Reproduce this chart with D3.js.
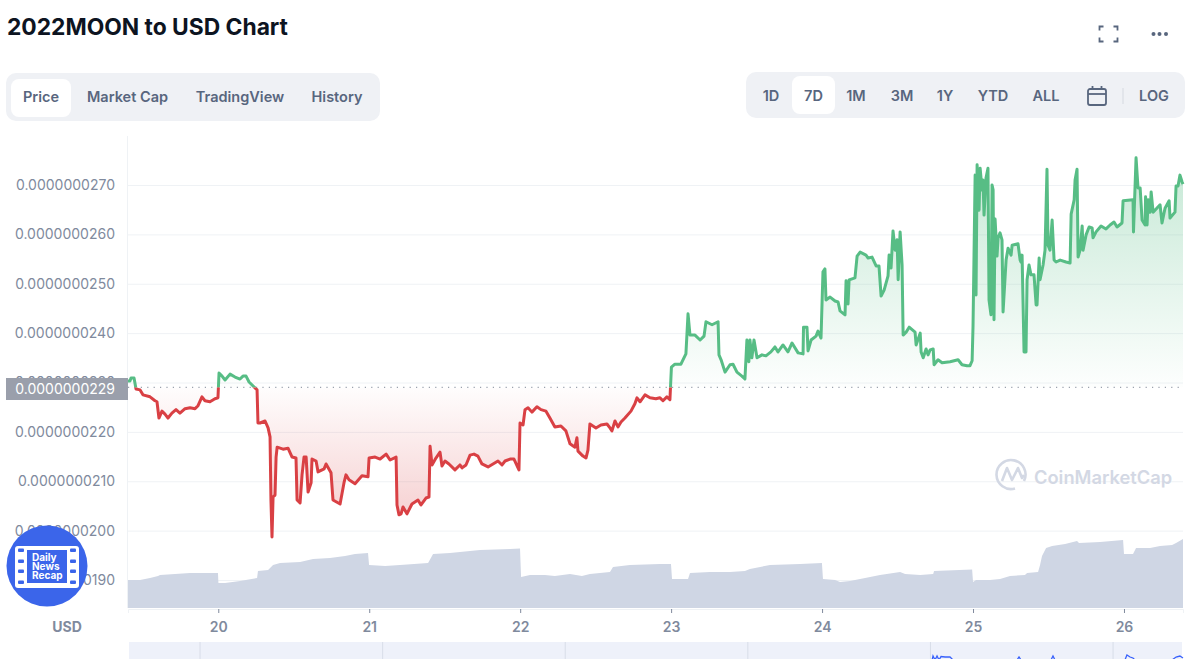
<!DOCTYPE html>
<html>
<head>
<meta charset="utf-8">
<title>2022MOON to USD Chart</title>
<script src="https://cdn.jsdelivr.net/npm/d3@7"></script>
<style>
	html, body { margin: 0; padding: 0; background: #fff; overflow: hidden; }
	svg { display: block; font-family: Inter, "Noto Sans", sans-serif; }
</style>
</head>
<body>
<div id="chart"></div>
<script>
var title = '2022MOON to USD Chart';
var leftTabs = ['Price', 'Market Cap', 'TradingView', 'History'];
var rangeTabs = ['1D', '7D', '1M', '3M', '1Y', 'YTD', 'ALL', 'LOG'];
var dayTicks = [20, 21, 22, 23, 24, 25, 26];
var priceTicks = [19, 20, 21, 22, 23, 24, 25, 26, 27];
var openPrice = 22.9; // price unit is 1e-9 usd

var days = [
	19.402, 19.415, 19.422, 19.442, 19.448, 19.455, 19.482, 19.501, 19.548, 19.581, 19.594, 19.607, 19.627, 19.647, 19.667, 19.693, 19.72, 19.746, 19.78, 19.813, 19.846, 19.866, 19.892, 19.912, 19.945, 19.978, 19.998,
	20.005, 20.025, 20.045, 20.078, 20.111, 20.144, 20.164, 20.184, 20.204, 20.224, 20.257, 20.263, 20.277, 20.31, 20.33, 20.343, 20.349, 20.356, 20.363, 20.376, 20.383, 20.39, 20.429, 20.462, 20.489, 20.515, 20.522, 20.542, 20.555, 20.568, 20.582, 20.595, 20.615, 20.621, 20.648, 20.661, 20.701, 20.714, 20.747, 20.76, 20.807, 20.833, 20.846, 20.866, 20.906, 20.952, 20.992, 20.999,
	21.039, 21.072, 21.112, 21.138, 21.178, 21.184, 21.197, 21.211, 21.224, 21.25, 21.283, 21.323, 21.343, 21.376, 21.396, 21.403, 21.416, 21.442, 21.469, 21.482, 21.502, 21.528, 21.568, 21.601, 21.615, 21.641, 21.668, 21.694, 21.72, 21.747, 21.787, 21.82, 21.853, 21.88, 21.9, 21.933, 21.959, 21.992, 21.999,
	22.019, 22.032, 22.052, 22.078, 22.111, 22.138, 22.171, 22.197, 22.23, 22.27, 22.303, 22.33, 22.363, 22.376, 22.383, 22.416, 22.436, 22.449, 22.462, 22.502, 22.535, 22.575, 22.595, 22.608, 22.628, 22.648, 22.668, 22.694, 22.734, 22.76, 22.774, 22.794, 22.827, 22.86, 22.899, 22.926, 22.946, 22.972, 22.992,
	23.002, 23.025, 23.065, 23.085, 23.098, 23.112, 23.125, 23.158, 23.192, 23.218, 23.231, 23.271, 23.311, 23.317, 23.331, 23.357, 23.39, 23.41, 23.436, 23.469, 23.489, 23.502, 23.515, 23.522, 23.535, 23.549, 23.569, 23.602, 23.628, 23.661, 23.688, 23.708, 23.741, 23.774, 23.801, 23.841, 23.874, 23.877, 23.9, 23.907, 23.927, 23.96, 23.973, 23.993,
	24.006, 24.019, 24.026, 24.053, 24.086, 24.106, 24.119, 24.152, 24.159, 24.172, 24.179, 24.218, 24.232, 24.252, 24.291, 24.305, 24.331, 24.358, 24.377, 24.391, 24.411, 24.437, 24.444, 24.457, 24.47, 24.484, 24.497, 24.504, 24.517, 24.53, 24.537, 24.557, 24.577, 24.616, 24.623, 24.65, 24.656, 24.67, 24.689, 24.702, 24.716, 24.736, 24.742, 24.768, 24.795, 24.848, 24.901, 24.927, 24.96, 24.98, 24.994,
	25.0, 25.014, 25.02, 25.027, 25.04, 25.047, 25.06, 25.066, 25.073, 25.086, 25.099, 25.106, 25.119, 25.126, 25.133, 25.139, 25.146, 25.159, 25.166, 25.179, 25.192, 25.199, 25.219, 25.232, 25.252, 25.259, 25.298, 25.312, 25.318, 25.325, 25.331, 25.338, 25.351, 25.358, 25.371, 25.384, 25.404, 25.418, 25.424, 25.438, 25.444, 25.464, 25.477, 25.49, 25.497, 25.51, 25.524, 25.537, 25.55, 25.577, 25.616, 25.643, 25.65, 25.67, 25.676, 25.689, 25.696, 25.709, 25.723, 25.729, 25.749, 25.769, 25.789, 25.795, 25.815, 25.848, 25.881, 25.908, 25.934, 25.954, 25.987, 25.994,
	26.06, 26.063, 26.08, 26.093, 26.107, 26.12, 26.14, 26.143, 26.153, 26.16, 26.173, 26.18, 26.193, 26.239, 26.252, 26.272, 26.299, 26.305, 26.338, 26.345, 26.358, 26.371, 26.385, 26.391
];

var prices = [
	23.03, 23.03, 23.09, 23.09, 22.99, 22.87, 22.85, 22.75, 22.71, 22.63, 22.61, 22.28, 22.42, 22.36, 22.28, 22.38, 22.45, 22.38, 22.47, 22.49, 22.47, 22.53, 22.71, 22.63, 22.61, 22.67, 22.69,
	23.19, 23.13, 23.05, 23.17, 23.11, 23.07, 23.13, 23.13, 23.01, 22.95, 22.85, 22.18, 22.18, 22.22, 22.08, 21.90, 20.62, 19.87, 20.68, 20.72, 21.49, 21.69, 21.65, 21.67, 21.49, 21.47, 20.62, 20.56, 21.13, 21.49, 21.49, 20.78, 20.97, 21.45, 21.41, 21.19, 21.25, 21.35, 21.17, 20.62, 20.54, 20.97, 21.13, 21.03, 20.95, 21.11, 21.09, 21.47,
	21.49, 21.45, 21.55, 21.43, 21.49, 20.52, 20.32, 20.34, 20.48, 20.34, 20.54, 20.62, 20.52, 20.66, 20.68, 21.71, 21.33, 21.47, 21.59, 21.31, 21.41, 21.35, 21.23, 21.33, 21.27, 21.33, 21.53, 21.55, 21.51, 21.35, 21.29, 21.35, 21.41, 21.33, 21.41, 21.45, 21.45, 21.23, 22.18,
	22.14, 22.45, 22.49, 22.40, 22.51, 22.45, 22.42, 22.28, 22.10, 22.12, 22.02, 21.76, 21.69, 21.88, 21.61, 21.51, 21.47, 21.63, 22.16, 22.08, 22.14, 22.16, 22.08, 22.02, 22.22, 22.10, 22.20, 22.28, 22.42, 22.57, 22.69, 22.61, 22.75, 22.69, 22.67, 22.69, 22.63, 22.71, 22.65,
	23.31, 23.37, 23.37, 23.50, 23.58, 24.39, 23.96, 23.96, 23.86, 23.94, 24.23, 24.17, 24.23, 23.56, 23.46, 23.21, 23.36, 23.37, 23.21, 23.13, 23.07, 23.86, 23.42, 23.86, 23.50, 23.86, 23.50, 23.56, 23.54, 23.62, 23.72, 23.62, 23.76, 23.62, 23.80, 23.60, 23.58, 24.12, 24.12, 23.64, 23.86, 23.94, 24.04, 23.90,
	25.24, 25.30, 24.67, 24.73, 24.65, 24.63, 24.45, 24.37, 25.06, 24.59, 25.08, 25.12, 25.56, 25.64, 25.58, 25.52, 25.54, 25.36, 25.36, 24.75, 24.87, 25.16, 25.58, 25.32, 26.07, 25.68, 25.89, 25.08, 26.05, 25.38, 23.96, 24.02, 24.12, 24.02, 23.76, 24.00, 23.62, 23.50, 23.68, 23.56, 23.66, 23.68, 23.36, 23.46, 23.40, 23.42, 23.46, 23.36, 23.34, 23.34, 23.44,
	24.14, 27.20, 24.77, 27.41, 26.49, 27.34, 26.90, 27.10, 26.39, 27.14, 27.34, 24.67, 24.37, 27.00, 26.90, 24.27, 26.31, 25.56, 25.93, 26.03, 25.89, 24.43, 25.48, 25.72, 25.58, 25.78, 25.81, 25.48, 25.44, 25.58, 24.67, 23.62, 23.62, 25.08, 25.38, 25.18, 25.18, 24.57, 24.57, 25.52, 25.08, 25.38, 25.68, 27.32, 25.78, 25.68, 26.29, 25.48, 25.44, 25.48, 25.44, 25.42, 26.41, 26.70, 27.10, 27.32, 25.54, 25.68, 26.17, 25.68, 25.99, 26.15, 26.13, 25.93, 26.05, 26.17, 26.11, 26.19, 26.25, 26.15, 26.23, 26.68,
	26.70, 26.05, 27.55, 26.94, 26.94, 26.29, 26.19, 26.76, 26.19, 26.70, 26.45, 26.86, 26.45, 26.60, 26.23, 26.53, 26.68, 26.33, 26.45, 26.98, 26.98, 27.20, 27.06, 27.02
];

var volumeDays = [
	19.402, 19.482, 19.548, 19.601, 19.614, 19.813, 19.998, 20.001, 20.045, 20.144, 20.257, 20.263, 20.33, 20.363, 20.409, 20.542, 20.628, 20.74, 20.84, 20.906, 20.992, 20.999,
	21.105, 21.204, 21.39, 21.423, 21.535, 21.734, 21.933, 21.999, 22.006, 22.065, 22.164, 22.23, 22.33, 22.409, 22.462, 22.595, 22.615, 22.727, 22.926, 22.999, 23.006,
	23.112, 23.125, 23.258, 23.39, 23.489, 23.522, 23.655, 23.854, 23.999, 24.006, 24.086, 24.119, 24.185, 24.285, 24.384, 24.517, 24.55, 24.65, 24.736, 24.742, 24.994, 25.0,
	25.02, 25.113, 25.179, 25.245, 25.344, 25.358, 25.431, 25.444, 25.457, 25.484, 25.524, 25.61, 25.689, 25.702, 25.842, 25.994, 26.0, 26.06, 26.08, 26.173, 26.239, 26.319, 26.345, 26.391
];

var volumes = [
	28, 28, 30, 32, 33, 35, 35, 25, 25, 27, 30, 37, 38, 43, 45, 46, 49, 50, 52, 54, 55, 43,
	42, 43, 45, 54, 55, 58, 59, 59.5, 31, 33, 33, 32, 34, 32, 34, 36, 41, 43, 44, 44, 29,
	29, 35, 36, 36, 37, 39, 43, 44, 45, 29, 28, 26, 27, 30, 33, 36, 34, 33, 34, 37, 38.5, 26,
	28, 28, 29, 32, 33, 35, 36, 43, 52, 60, 62, 64, 67, 65, 66, 68, 54, 54, 60, 60, 62, 63, 65, 69
];

// the strip under the chart covers a longer period, only its peaks reach the picture
var navigatorTicks = [1, 2, 3, 4, 5, 6];
var navigatorTimes = [5.009, 5.014, 5.025, 5.036, 5.047, 5.058, 5.08, 5.107, 5.124, 5.474, 5.485, 5.496, 5.66, 5.671, 5.682, 6.065, 6.076, 6.093, 6.109, 6.12, 6.323, 6.345, 6.366, 6.383];
var navigatorValues = [0, 4, 0, 4, 0, 3.5, 3, 3, 0, 0, 3, 0, 0, 4, 0, 0, 5, 3, 2, 0, 0, 3, 4, 2];

var width = 1200, height = 659;
var green = '#57bd85', red = '#d94044', gridColor = '#eff2f5', labelColor = '#808a9d', tabColor = '#58667e';

function init() {
	var svg = d3.select('#chart').append('svg').attr('width', width).attr('height', height);
	var defs = svg.append('defs');

	var x = d3.scaleLinear().domain([19.402, 26.391]).range([128, 1183]);
	var y = d3.scaleLinear().domain([19, 27]).range([580, 185]);
	var volumeY = d3.scaleLinear().domain([0, 70]).range([608, 538]);
	var baseY = y(openPrice);

	drawHeader(svg);

	// left axis line
	svg.append('line').attr('x1', 127.5).attr('x2', 127.5).attr('y1', 136).attr('y2', 608).attr('stroke', gridColor);

	var yAxis = d3.axisLeft(y).tickValues(priceTicks).tickSize(-1055).tickPadding(13)
		.tickFormat(function(d) { return (d * 1e-9).toFixed(10); });
	var yGroup = svg.append('g').attr('transform', 'translate(128,0)').call(yAxis);
	yGroup.select('.domain').remove();
	yGroup.selectAll('line').attr('stroke', gridColor);
	yGroup.selectAll('text').attr('fill', labelColor).style('font-size', '14px').style('font-family', 'Inter');

	// volume
	var volumeArea = d3.area()
		.x(function(d, i) { return x(volumeDays[i]); })
		.y0(volumeY(0))
		.y1(function(d) { return volumeY(d); });
	svg.append('path').datum(volumes).attr('d', volumeArea).attr('fill', '#cfd6e4');

	drawWatermark(svg);

	// gradients for the two sides of the open price
	var greenGrad = defs.append('linearGradient').attr('id', 'greenFill').attr('gradientUnits', 'userSpaceOnUse')
		.attr('x1', 0).attr('x2', 0).attr('y1', y(27.5)).attr('y2', baseY);
	greenGrad.append('stop').attr('offset', 0).attr('stop-color', green).attr('stop-opacity', 0.34);
	greenGrad.append('stop').attr('offset', 1).attr('stop-color', green).attr('stop-opacity', 0.01);

	var redGrad = defs.append('linearGradient').attr('id', 'redFill').attr('gradientUnits', 'userSpaceOnUse')
		.attr('x1', 0).attr('x2', 0).attr('y1', baseY).attr('y2', y(20.4));
	redGrad.append('stop').attr('offset', 0).attr('stop-color', red).attr('stop-opacity', 0.01);
	redGrad.append('stop').attr('offset', 1).attr('stop-color', red).attr('stop-opacity', 0.23);

	defs.append('clipPath').attr('id', 'aboveOpen').append('rect')
		.attr('x', 0).attr('y', 0).attr('width', width).attr('height', baseY);
	defs.append('clipPath').attr('id', 'belowOpen').append('rect')
		.attr('x', 0).attr('y', baseY).attr('width', width).attr('height', height - baseY);

	var area = d3.area()
		.x(function(d, i) { return x(days[i]); })
		.y0(baseY)
		.y1(function(d) { return y(d); });
	var line = d3.line()
		.x(function(d, i) { return x(days[i]); })
		.y(function(d) { return y(d); });

	svg.append('path').datum(prices).attr('d', area).attr('fill', 'url(#greenFill)').attr('clip-path', 'url(#aboveOpen)');
	svg.append('path').datum(prices).attr('d', area).attr('fill', 'url(#redFill)').attr('clip-path', 'url(#belowOpen)');

	svg.append('line').attr('x1', 128).attr('x2', 1183).attr('y1', baseY).attr('y2', baseY)
		.attr('stroke', '#9aa1ad').attr('stroke-width', 1.2).attr('stroke-dasharray', '1.2 5.2');

	svg.append('path').datum(prices).attr('d', line).attr('fill', 'none').attr('stroke', green)
		.attr('stroke-width', 3).attr('stroke-linejoin', 'round').attr('clip-path', 'url(#aboveOpen)');
	svg.append('path').datum(prices).attr('d', line).attr('fill', 'none').attr('stroke', red)
		.attr('stroke-width', 3).attr('stroke-linejoin', 'round').attr('clip-path', 'url(#belowOpen)');

	// open price label
	svg.append('rect').attr('x', 6).attr('y', 378).attr('width', 122).attr('height', 22).attr('fill', '#9a9fab');
	svg.append('text').attr('x', 115).attr('y', 389).attr('dy', '0.35em').attr('text-anchor', 'end')
		.attr('fill', '#fff').style('font-size', '14px').text((openPrice * 1e-9).toFixed(10));

	// bottom axis
	var xAxis = d3.axisBottom(x).tickValues(dayTicks).tickSize(4).tickPadding(9).tickFormat(d3.format('d'));
	var xGroup = svg.append('g').attr('transform', 'translate(0,609)').call(xAxis);
	xGroup.select('.domain').attr('stroke', gridColor);
	xGroup.selectAll('line').attr('stroke', '#808a9d');
	xGroup.selectAll('text').attr('fill', labelColor).style('font-size', '14px').style('font-weight', 600).style('font-family', 'Inter');

	svg.append('text').attr('x', 67).attr('y', 632).attr('text-anchor', 'middle').attr('fill', labelColor)
		.style('font-size', '14px').style('font-weight', 700).text('USD');

	drawNavigator(svg);
	drawBadge(svg);
}

function drawHeader(svg) {
	svg.append('text').attr('x', 7).attr('y', 35).attr('fill', '#0d1421')
		.style('font-size', '22.8px').style('font-weight', 700).text(title);

	// left tabs
	svg.append('rect').attr('x', 6).attr('y', 73).attr('width', 374).attr('height', 48).attr('rx', 10).attr('fill', '#eff1f5');
	svg.append('rect').attr('x', 11).attr('y', 79).attr('width', 60).attr('height', 38).attr('rx', 8).attr('fill', '#fff');
	var leftX = [41, 127.5, 240, 337];
	svg.selectAll('.left-tab').data(leftTabs).enter().append('text')
		.attr('class', 'left-tab')
		.attr('x', function(d, i) { return leftX[i]; })
		.attr('y', 97).attr('dy', '0.35em').attr('text-anchor', 'middle').attr('fill', tabColor)
		.style('font-size', '14.5px').style('font-weight', 600)
		.text(function(d) { return d; });

	// range tabs
	svg.append('rect').attr('x', 746).attr('y', 72).attr('width', 439).attr('height', 46).attr('rx', 10).attr('fill', '#eff1f5');
	svg.append('rect').attr('x', 792).attr('y', 76).attr('width', 43).attr('height', 38).attr('rx', 8).attr('fill', '#fff');
	var rangeX = [771, 813.5, 856, 902, 945, 993, 1046, 1154];
	svg.selectAll('.range-tab').data(rangeTabs).enter().append('text')
		.attr('class', 'range-tab')
		.attr('x', function(d, i) { return rangeX[i]; })
		.attr('y', 96).attr('dy', '0.35em').attr('text-anchor', 'middle').attr('fill', tabColor)
		.style('font-size', '14.5px').style('font-weight', 600)
		.text(function(d) { return d; });

	svg.append('line').attr('x1', 1123).attr('x2', 1123).attr('y1', 88).attr('y2', 104).attr('stroke', '#d5d9e0');

	// calendar icon
	var cal = svg.append('g').attr('transform', 'translate(1097,96)').attr('fill', 'none').attr('stroke', tabColor).attr('stroke-width', 1.8);
	cal.append('rect').attr('x', -9).attr('y', -7).attr('width', 18).attr('height', 16).attr('rx', 2);
	cal.append('line').attr('x1', -9).attr('x2', 9).attr('y1', -2).attr('y2', -2);
	cal.append('line').attr('x1', -4.5).attr('x2', -4.5).attr('y1', -10).attr('y2', -6);
	cal.append('line').attr('x1', 4.5).attr('x2', 4.5).attr('y1', -10).attr('y2', -6);

	// fullscreen icon
	var corners = [[-9, -7.5, 1, 1], [9, -7.5, -1, 1], [-9, 7.5, 1, -1], [9, 7.5, -1, -1]];
	svg.append('g').attr('transform', 'translate(1108.5,34)').selectAll('path').data(corners).enter().append('path')
		.attr('d', function(c) { return 'M' + c[0] + ',' + (c[1] + 4 * c[3]) + 'V' + c[1] + 'H' + (c[0] + 4 * c[2]); })
		.attr('fill', 'none').attr('stroke', tabColor).attr('stroke-width', 1.8);

	// more icon
	svg.selectAll('.dot').data([1153.5, 1159.5, 1166]).enter().append('circle')
		.attr('class', 'dot').attr('cx', function(d) { return d; }).attr('cy', 34).attr('r', 2).attr('fill', tabColor);
}

function drawWatermark(svg) {
	var g = svg.append('g').attr('fill', 'none').attr('stroke', '#d3d8e4').attr('stroke-width', 2.6);
	g.append('path').attr('d', 'M1024,481A14.5,14.5 0 1 0 1015,488.5');
	g.append('path').attr('d', 'M1002,481L1007,468L1012,480L1018,468L1022,478L1024,475').attr('stroke-linejoin', 'round');
	svg.append('text').attr('x', 1034).attr('y', 484).attr('fill', '#d3d8e4')
		.style('font-size', '18.3px').style('font-weight', 600).text('CoinMarketCap');
}

function drawNavigator(svg) {
	var navX = d3.scaleLinear().domain([0.611, 6.383]).range([129, 1183]);
	var navY = d3.scaleLinear().domain([0, 10]).range([660, 650]);

	svg.append('rect').attr('x', 129).attr('y', 642).attr('width', 1053).attr('height', 17).attr('fill', '#eef1fa');
	svg.selectAll('.nav-tick').data(navigatorTicks).enter().append('line')
		.attr('class', 'nav-tick')
		.attr('x1', function(d) { return navX(d); }).attr('x2', function(d) { return navX(d); })
		.attr('y1', 642).attr('y2', 659).attr('stroke', '#d8dde8');

	var navLine = d3.line()
		.x(function(d, i) { return navX(navigatorTimes[i]); })
		.y(function(d) { return navY(d); });
	svg.append('path').datum(navigatorValues).attr('d', navLine).attr('fill', 'none')
		.attr('stroke', '#3861fb').attr('stroke-width', 1.3);
}

function drawBadge(svg) {
	var blue = '#3b65ea';
	var g = svg.append('g');
	g.append('circle').attr('cx', 47).attr('cy', 566).attr('r', 40.5).attr('fill', blue);
	g.append('rect').attr('x', 15).attr('y', 546).attr('width', 64).attr('height', 42).attr('rx', 3).attr('fill', '#fff');
	g.append('rect').attr('x', 27).attr('y', 550).attr('width', 40).attr('height', 33).attr('fill', blue);

	var holes = [550, 561, 571, 582];
	[18, 70].forEach(function(hx) {
		holes.forEach(function(hy) {
			g.append('rect').attr('x', hx).attr('y', hy - 1.5).attr('width', 6).attr('height', 3.5).attr('rx', 1).attr('fill', blue);
		});
	});

	var words = ['Daily', 'News', 'Recap'];
	g.selectAll('.badge-word').data(words).enter().append('text')
		.attr('class', 'badge-word')
		.attr('x', 32)
		.attr('y', function(d, i) { return 560.5 + i * 9.3; })
		.attr('fill', '#fff').style('font-size', '10px').style('font-weight', 700)
		.text(function(d) { return d; });
}

document.addEventListener('DOMContentLoaded', init, false);
</script>
</body>
</html>
